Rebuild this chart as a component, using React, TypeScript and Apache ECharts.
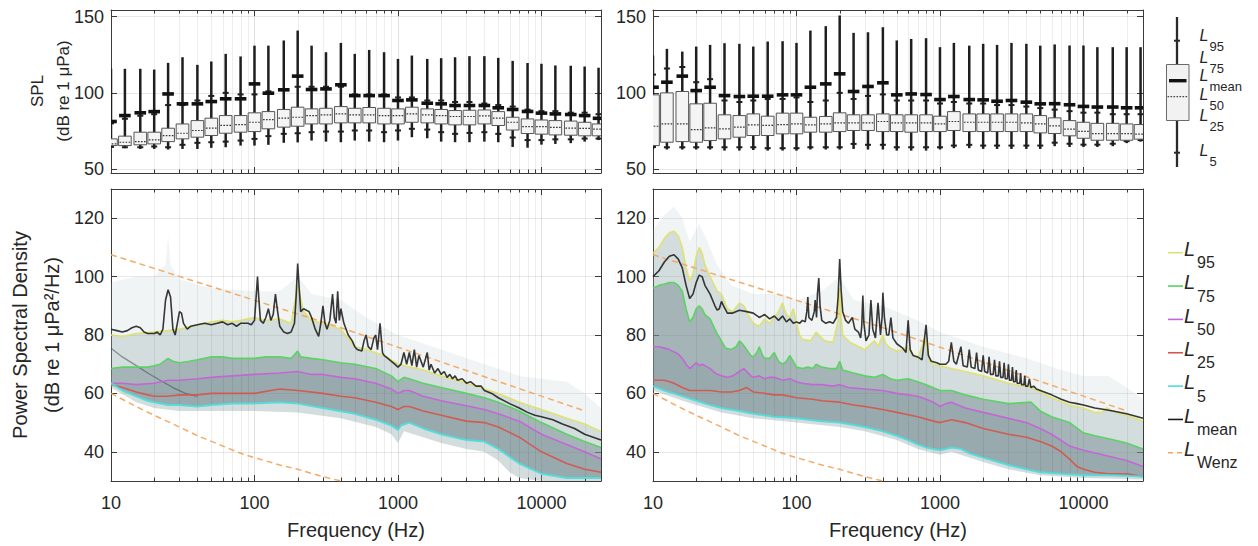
import { useEffect, useRef } from 'react';
import * as echarts from 'echarts';

const FONT = '"Liberation Sans", Arial, Helvetica, sans-serif';

// ---------- axes ----------
const X_MIN = 10;
const X_MAX = 26000;
const SPL_RANGE = [47.4, 154.4];
const PSD_RANGE = [30, 130];
const MINOR_FREQS = [20, 30, 40, 50, 60, 70, 80, 90, 200, 300, 400, 500, 600, 700, 800, 900, 2000, 3000, 4000, 5000, 6000, 7000, 8000, 9000, 20000];

// ---------- third-octave band SPL statistics ----------
const BAND_FREQS = [10, 12.5, 16, 20, 25, 31.5, 40, 50, 63, 80, 100, 125, 160, 200, 250, 315, 400, 500, 630, 800, 1000, 1250, 1600, 2000, 2500, 3150, 4000, 5000, 6300, 8000, 10000, 12500, 16000, 20000, 25000];

const TL_MAX = [115.8, 115.8, 115.8, 115.3, 119.7, 123.4, 118.4, 120.6, 125.6, 123.9, 131, 131, 134.4, 140.9, 131, 126.7, 132.8, 125.6, 128.2, 126.7, 122.3, 124.5, 122.3, 122.8, 123.4, 124.1, 124.1, 123, 121, 119.6, 119.1, 118, 117.8, 117.3, 116.5];
const TL_P95 = [80, 83, 85, 86, 92, 92, 95, 98, 100, 99, 99, 101, 102, 104, 104, 104, 104, 99, 99, 99, 97, 97, 95, 95, 94, 94, 93, 92, 91, 89, 88, 88, 87, 87, 86];
const TL_P75 = [69.8, 71.6, 74.2, 74.2, 76.8, 79.6, 81.8, 83.4, 85.1, 85.1, 86.9, 87.7, 89.1, 90.6, 89.5, 89.9, 91, 89.9, 90.4, 89.9, 89.5, 90.6, 89.5, 89.1, 88.4, 88.6, 88.8, 87.7, 84, 82.9, 82.2, 81.8, 81.5, 80.7, 79.6];
const TL_P50 = [66.5, 67.6, 68, 69.1, 72, 73.5, 75.3, 76.8, 78.6, 79.2, 80.7, 82.5, 83.4, 84, 85.1, 85.6, 86.2, 85.6, 85.6, 85.1, 85.1, 86.2, 85.6, 85.1, 84.5, 84.5, 84.9, 83.4, 80.7, 77.8, 77.8, 77.3, 76.9, 76.7, 76.2];
const TL_P25 = [65.4, 65.4, 65.9, 66.5, 68, 69.8, 70.9, 72, 73.5, 74.2, 74.6, 76.4, 77.5, 78.1, 79.6, 79.6, 80.3, 80.3, 80.3, 79.6, 79.6, 80.7, 80.3, 79.6, 79, 79, 79.6, 78.6, 75.6, 73.3, 72.9, 72.4, 72.2, 71.8, 71.8];
const TL_P5 = [64.5, 64.3, 64.3, 64.8, 64.3, 65.9, 67.2, 67.6, 68, 68.7, 69.8, 71.6, 73.1, 73.5, 74.2, 74.6, 74.6, 75.3, 75.3, 74.2, 75.3, 76.4, 75.9, 74.2, 73.1, 73.7, 74.2, 73.1, 70.7, 69, 69, 69.5, 69.5, 70, 70];
const TL_MIN = [64, 63.7, 63.2, 63.2, 62.8, 63.2, 63.2, 63.9, 64.3, 65.4, 65.4, 65.9, 67.2, 67.5, 68.7, 68, 67.6, 68.7, 68, 67.6, 68.7, 70.9, 70.2, 68, 67.6, 67.6, 68, 67.6, 64.5, 64, 66, 66.5, 67, 68, 69];
const TL_MEAN = [81.2, 85.1, 86.9, 87.7, 99.3, 92.8, 92.8, 94.3, 96.1, 96.1, 105.9, 99.8, 102, 111, 102.2, 102.6, 105.3, 98.2, 98.2, 98.2, 95, 95.4, 93.2, 92.8, 91.7, 91.7, 91.7, 90.2, 89.1, 87.8, 86.7, 86.2, 85.8, 85.1, 83.3];

const TR_MAX = [124.5, 128.9, 127.1, 130.4, 131.5, 132.6, 132.2, 130.4, 133.7, 133.9, 132.8, 140.9, 143.8, 150.8, 139.4, 139.8, 143.1, 134.4, 135.4, 135.9, 130, 132.8, 131, 132.2, 131.5, 132.8, 132.2, 131, 131.8, 131.1, 131.1, 130, 130, 130, 130];
const TR_P95 = [112, 116, 117, 107, 109, 95, 94, 95, 96, 96, 97, 94, 95, 100, 96, 98, 99, 95, 95, 95, 93, 94, 93, 93, 92, 92, 91, 90, 89, 88, 87, 87, 86, 86, 86];
const TR_P75 = [98.7, 100, 100.9, 92.8, 93.2, 85.6, 85.1, 86.2, 84.7, 86.7, 86.7, 84, 84.5, 86.9, 85.6, 85.6, 86.2, 85.6, 85.6, 85.6, 84.7, 87.7, 86.2, 86.2, 86.2, 86.2, 86.2, 85.1, 83.6, 81.8, 80.7, 80, 80, 79.6, 79.2];
const TR_P50 = [78.1, 79.6, 79.6, 75.9, 77, 76.4, 77.5, 79, 78.6, 79.2, 79.6, 79, 79.6, 80.3, 80.3, 80.3, 81.2, 80.3, 80.3, 80.3, 79.6, 81.2, 80.7, 80.7, 80.7, 80.7, 80.3, 79.6, 78.4, 76.2, 74.7, 73.3, 73.3, 73.3, 72.9];
const TR_P25 = [65.4, 67.6, 68, 67.6, 68.7, 69.8, 70.9, 72, 72, 73.1, 73.1, 74.2, 74.2, 74.6, 75.3, 75.3, 74.6, 74.6, 74.2, 74.6, 74.6, 75.3, 74.6, 74.6, 74.6, 74.6, 74.6, 73.7, 73.3, 71.8, 70.2, 68.9, 68.9, 68.9, 69.6];
const TR_P5 = [64.5, 64.3, 64.3, 64.3, 64.3, 64.3, 64.3, 64.3, 63.7, 63.7, 63.7, 64.3, 64.3, 64.3, 66.5, 65.9, 65.9, 64.3, 64.3, 64.3, 64.3, 65.4, 65.9, 65.4, 65.4, 65.4, 65.4, 65.4, 67.3, 66.6, 66, 66, 66.6, 68.3, 69];
const TR_MIN = [63, 62.8, 62.8, 62.8, 62.8, 62.1, 62.1, 62.5, 62.1, 62.1, 62.1, 62.8, 62.8, 62.8, 63.2, 62.8, 62.8, 62.1, 62.1, 62.1, 62.8, 63.7, 63.7, 63.2, 63.2, 63.2, 63.2, 63.2, 65, 64.5, 64.5, 64.5, 65, 67, 68];
const TR_MEAN = [103.7, 107, 111, 101.5, 103.7, 98.2, 97.6, 97.8, 97.8, 98.7, 98.7, 103.7, 105.9, 112.5, 100.9, 104.2, 106.6, 98.7, 99.3, 98.9, 95.6, 97.6, 95.6, 95.4, 94.5, 95, 93.9, 92.8, 92.9, 92.2, 91.1, 90.7, 90.7, 90.2, 90.2];

// ---------- PSD percentiles, left site [Hz, dB] ----------
const BL_MEAN = [[10, 82], [11, 81.5], [12, 81], [13, 81.5], [14, 82.5], [15, 83], [16, 82.5], [17, 81], [18, 80.5], [20, 80.5], [21, 81], [22, 80], [23, 82], [24, 92], [25, 95.5], [26, 93], [27, 82], [28, 80], [29, 84], [30, 88], [31, 87.5], [32, 84], [34, 82], [36, 83], [40, 83.5], [45, 84], [50, 83.5], [55, 84], [60, 84.5], [65, 83.5], [70, 84], [75, 83], [80, 84], [90, 84], [95, 83.5], [100, 85], [103, 94], [105, 100], [107, 93], [110, 85], [115, 84], [120, 86], [125, 89], [130, 85], [135, 87], [140, 94], [145, 88], [150, 83], [160, 81], [170, 80.5], [180, 81], [190, 84], [195, 93], [200, 104.5], [205, 96], [210, 88], [220, 89], [240, 88], [250, 86], [265, 82], [280, 79.5], [290, 84], [300, 90], [310, 84], [320, 82], [335, 85], [350, 94], [360, 86], [370, 84], [380, 95], [390, 85], [400, 89], [420, 84], [450, 80], [480, 78], [500, 76], [520, 75], [560, 74.5], [580, 78], [600, 80], [620, 76], [650, 75], [680, 79], [700, 80], [720, 75], [750, 84], [780, 74], [800, 73], [850, 72], [900, 71], [950, 70], [1000, 69], [1050, 70], [1100, 74], [1150, 70], [1200, 74], [1250, 69.5], [1300, 75], [1350, 69], [1400, 73], [1500, 69], [1600, 74], [1650, 68], [1700, 70], [1800, 67], [1900, 68.5], [2000, 66.5], [2100, 67.5], [2200, 65.5], [2300, 66.5], [2400, 65], [2500, 66], [2600, 64.5], [2800, 65], [3000, 63.5], [3200, 64], [3500, 62.5], [3800, 62.5], [4000, 61], [4500, 60], [5000, 58.5], [6000, 56.5], [7000, 55], [8000, 53.5], [9000, 52.5], [10000, 52], [12000, 51], [14000, 49.5], [17000, 48], [20000, 46], [26000, 44]];
const BL_P95 = [[10, 80], [12, 79.5], [15, 80.5], [20, 81], [25, 81.5], [30, 82], [40, 83.5], [50, 84.5], [60, 85], [70, 84.5], [80, 85], [100, 86], [120, 85], [150, 85.5], [180, 84], [200, 97], [220, 88], [250, 85], [300, 84], [400, 82], [500, 76], [600, 75], [800, 73], [1000, 70], [1500, 68], [2000, 66], [3000, 63.5], [4000, 61.5], [5000, 60], [7000, 57], [10000, 54.5], [15000, 51.5], [20000, 49.5], [26000, 47]];
const BL_P75 = [[10, 68.5], [12, 69], [15, 69], [18, 69], [20, 69.5], [22, 70], [25, 72], [27, 71], [30, 70.5], [35, 71], [40, 71.5], [50, 72.5], [60, 72.5], [70, 72], [80, 72], [100, 72], [120, 72.5], [150, 72.5], [180, 72], [200, 74.5], [210, 72.5], [250, 72], [300, 71.5], [400, 70.5], [500, 70], [700, 68.5], [900, 66], [1000, 64], [1100, 65.5], [1200, 65], [1500, 63.5], [2000, 62], [3000, 60], [4000, 58.5], [5000, 57], [7000, 54], [10000, 50], [15000, 46], [20000, 43.5], [26000, 41.5]];
const BL_P50 = [[10, 63.5], [12, 63.5], [15, 63], [20, 63.5], [25, 64.5], [30, 64.5], [40, 65], [50, 65.5], [70, 66], [100, 66.5], [150, 67], [200, 67.5], [250, 66.5], [300, 66.5], [400, 65.5], [500, 65], [700, 63.5], [900, 61.5], [1000, 60], [1100, 61], [1200, 61], [1500, 59], [2000, 57.5], [3000, 55.8], [4000, 54.5], [5000, 53], [7000, 50.5], [10000, 46], [15000, 42.5], [20000, 40], [26000, 37.5]];
const BL_P25 = [[10, 63], [12, 62], [15, 60.5], [18, 59.5], [20, 59], [25, 59], [30, 59.5], [40, 59.5], [50, 60], [70, 60], [100, 60], [130, 61], [150, 61.5], [200, 61], [300, 60], [400, 59], [500, 58.5], [700, 57], [900, 55.5], [1000, 54.5], [1100, 55.5], [1200, 55.5], [1500, 54], [2000, 52.5], [3000, 50.5], [4000, 50], [5000, 48.5], [7000, 45], [10000, 40], [15000, 36], [20000, 34], [26000, 33]];
const BL_P5 = [[10, 63.5], [12, 61], [15, 59], [18, 57.5], [20, 57], [25, 56], [30, 56], [40, 55.5], [50, 56], [70, 56.5], [100, 56.5], [150, 57], [200, 56.5], [300, 55], [500, 53], [700, 51], [900, 49], [1000, 47.5], [1050, 49], [1200, 50], [1500, 48], [2000, 46], [3000, 44], [4000, 43.5], [5000, 41], [7000, 36], [10000, 32.5], [15000, 31], [20000, 31], [26000, 31]];
const BL_GRAY = [[10, 75.5], [12, 72.5], [15, 69.5], [18, 67], [22, 64.5], [27, 62], [33, 60], [40, 59]];
const BL_HAZE_UP = [[10, 98], [15, 100], [20, 100], [24, 104], [25, 114], [26, 104], [30, 99], [50, 96], [100, 95], [150, 95], [200, 100], [250, 94], [400, 92], [600, 86], [1000, 80], [2000, 75], [4000, 70], [7000, 66], [10000, 65], [15000, 64], [20000, 60], [26000, 55]];
const BL_HAZE_LO = [[10, 62], [15, 57], [20, 55], [30, 54], [60, 54], [100, 54], [200, 53.5], [400, 51.5], [700, 48.5], [900, 46], [1000, 43], [1100, 47], [1500, 45], [2000, 43], [3000, 41], [4000, 40], [5000, 37], [6000, 33], [7000, 31], [10000, 30], [26000, 30]];

// ---------- PSD percentiles, right site [Hz, dB] ----------
const BR_MEAN = [[10, 100], [11, 102], [12, 105], [13, 107], [14, 107.5], [15, 106], [16, 103], [17, 97], [18, 92.5], [19, 94], [20, 98], [21, 100.5], [22, 100], [23, 97], [25, 94], [27, 90], [28, 88.5], [29, 89], [30, 91.5], [31, 90], [33, 87.5], [36, 87.5], [40, 88.5], [45, 88], [50, 87.5], [55, 86], [60, 87], [65, 85.5], [70, 86.5], [75, 85], [80, 86.5], [85, 84.5], [90, 85.5], [95, 84], [100, 84.5], [105, 84], [110, 85], [115, 84.5], [118, 88], [120, 93], [122, 86], [128, 85], [133, 88], [135, 92], [138, 86], [140, 94], [143, 99.5], [146, 90], [150, 85], [160, 84], [170, 84.5], [180, 84], [190, 86], [195, 93], [200, 106], [205, 95], [210, 88], [220, 85], [230, 84], [245, 86], [255, 82], [270, 81], [280, 79], [285, 83], [290, 93.5], [295, 84], [305, 78], [320, 80], [330, 92], [340, 82], [355, 79], [370, 91], [385, 80], [395, 86], [400, 94.5], [410, 86], [425, 80], [440, 80], [455, 86], [470, 79], [500, 77], [550, 75.5], [580, 74], [600, 85], [620, 75], [650, 73], [700, 72.5], [750, 71.5], [800, 83.5], [830, 73], [870, 71], [950, 70.5], [1000, 70], [1100, 70], [1150, 71], [1200, 77.5], [1250, 71], [1300, 70], [1400, 76], [1450, 69.5], [1550, 69], [1600, 75], [1650, 69], [1750, 68.5], [1800, 74], [1850, 68], [1950, 67.5], [2000, 73], [2050, 67.5], [2150, 67], [2200, 72.5], [2250, 66.5], [2350, 66.5], [2400, 71.5], [2450, 66], [2550, 66], [2600, 71], [2650, 65.5], [2750, 65.5], [2800, 70.5], [2850, 65], [2950, 65], [3000, 70], [3050, 64.5], [3150, 64.5], [3200, 69], [3250, 64], [3350, 64], [3400, 68], [3450, 63.5], [3600, 63.5], [3650, 67], [3700, 63], [3850, 63], [3900, 66], [3950, 62.5], [4100, 62.5], [4200, 65], [4300, 62], [4500, 62.5], [4700, 61.5], [5000, 61], [6000, 59.5], [7000, 58], [8000, 57], [9000, 56.5], [10000, 56], [12000, 55], [14000, 54.5], [16000, 54], [20000, 53], [26000, 51.5]];
const BR_P95 = [[10, 108], [11, 110], [12, 113], [13, 115], [14, 115.5], [15, 114], [16, 110], [17, 103], [18, 98.5], [19, 101], [20, 107], [21, 110], [22, 108], [23, 104], [25, 100], [28, 95], [30, 94], [33, 89], [36, 88], [40, 91], [43, 90], [46, 87], [50, 84], [55, 83], [60, 85.5], [65, 84], [70, 86], [75, 88], [80, 91], [85, 87], [90, 86], [95, 89], [100, 84], [105, 80], [110, 78.5], [125, 78], [137, 81], [157, 78], [180, 77.5], [195, 85], [200, 96], [205, 86], [210, 80], [235, 77.5], [260, 76.5], [300, 75], [330, 77], [350, 78], [370, 76], [400, 80], [420, 77], [450, 75.5], [500, 74.5], [550, 75], [590, 76], [650, 73], [700, 72], [785, 79], [850, 71], [900, 70], [1000, 69.5], [1200, 68.5], [1500, 67.5], [2000, 66], [3000, 63.5], [4300, 62], [5000, 60.5], [6000, 58.5], [8000, 56], [10000, 55], [12000, 53.5], [13500, 53.5], [14500, 55], [16000, 54], [20000, 52.5], [26000, 50.5]];
const BR_P75 = [[10, 96], [11, 97], [12, 97.5], [13, 98], [14, 98], [15, 97], [16, 95], [17, 89], [18, 84.5], [19, 86], [20, 89], [21, 90], [22, 89], [23, 87], [25, 85.5], [27, 82], [28, 80.5], [30, 78], [32, 75.5], [35, 75], [38, 76], [40, 78], [42, 77], [45, 75], [48, 73], [50, 72.5], [53, 74], [55, 76], [58, 73], [60, 72], [65, 72], [70, 74], [75, 71], [80, 70], [85, 71], [90, 73], [95, 71], [100, 69], [110, 68.5], [120, 69], [130, 68.5], [137, 70], [150, 69], [170, 68.5], [190, 68.5], [200, 71], [210, 68], [250, 67], [300, 66], [350, 65.5], [400, 66.5], [450, 65], [500, 64.5], [600, 65], [700, 64], [800, 63], [1000, 61], [1200, 61], [1500, 59.5], [2000, 58], [3000, 56.5], [4300, 57], [5000, 54], [6000, 52], [8000, 50], [10000, 46.5], [12000, 45.5], [15000, 44.5], [20000, 43], [26000, 41]];
const BR_P50 = [[10, 76], [11, 76], [12, 75.5], [13, 75], [15, 73.5], [16, 72], [17, 70], [18, 68.5], [19, 69.5], [20, 70.5], [21, 69.5], [22, 70], [23, 69.5], [25, 68.5], [27, 67], [30, 66], [33, 65.5], [36, 66], [40, 67.5], [43, 68.5], [45, 67.5], [48, 66], [50, 65.5], [55, 66], [60, 65], [65, 65.5], [70, 65.5], [80, 64.5], [90, 65], [100, 64], [110, 63.5], [130, 63], [150, 63], [180, 62.5], [200, 63], [230, 62], [300, 61.5], [400, 61], [500, 60], [700, 59], [800, 58], [900, 57], [1000, 55.5], [1100, 56.5], [1200, 57], [1500, 55], [2000, 53.5], [3000, 51.5], [4000, 50], [5000, 48], [6000, 46], [8000, 42], [10000, 40.5], [15000, 38.5], [20000, 37], [26000, 35]];
const BR_P25 = [[10, 64.5], [12, 64.5], [14, 63.5], [16, 62], [18, 61], [20, 61], [25, 61], [30, 60.5], [35, 60.5], [40, 61], [45, 62], [50, 60.5], [60, 60], [70, 59.5], [80, 59.5], [100, 58.5], [130, 58], [150, 57.5], [200, 57], [250, 56], [300, 55.5], [400, 54.5], [500, 53.5], [700, 52], [900, 50.5], [1000, 50], [1200, 51], [1500, 50], [2000, 48], [3000, 46], [4000, 45], [5000, 43.5], [6000, 42], [7000, 40], [8000, 37.5], [9000, 35], [10000, 34], [12000, 33], [15000, 32.5], [20000, 32.5], [26000, 31.5]];
const BR_P5 = [[10, 62.5], [12, 61], [15, 59.5], [20, 57.5], [25, 56], [30, 55], [40, 54], [50, 53], [70, 52], [100, 51.5], [150, 50.5], [200, 50], [300, 48.5], [400, 47], [500, 45.5], [600, 44], [700, 42.5], [800, 41.5], [1000, 40.5], [1200, 41.5], [1400, 41], [1600, 39.5], [2000, 38], [3000, 35.5], [4000, 34], [5000, 33], [7000, 32.5], [10000, 32], [15000, 32], [26000, 31.5]];
const BR_HAZE_UP = [[10, 116], [12, 121], [14, 124], [16, 120], [18, 112], [21, 118], [24, 112], [28, 104], [35, 97], [50, 94], [80, 94], [100, 92], [150, 95], [200, 100], [250, 92], [400, 90], [700, 85], [1000, 81], [2000, 76], [4000, 72], [7000, 68], [10000, 66], [15000, 66], [20000, 62], [26000, 58]];
const BR_HAZE_LO = [[10, 61], [15, 58], [20, 56], [30, 53.5], [50, 51.5], [100, 50], [200, 48.5], [300, 47], [500, 44], [700, 41], [1000, 39], [1200, 40], [2000, 36.5], [3000, 34], [5000, 32], [10000, 31], [26000, 30.5]];

// Wenz limits
const WENZ_HIGH = [[10, 107.5], [400, 82.5], [20000, 54]];
const WENZ_LOW = [[10, 60], [15, 55.5], [20, 52.5], [30, 48.5], [40, 45.5], [60, 42], [80, 39.5], [100, 38], [150, 35.5], [200, 34], [300, 31.5], [400, 30]];

// ---------- styles ----------
const AXIS_COLOR = '#3a3a3a';
const C95 = '#dfe16c';
const C75 = '#55d45e';
const C50 = '#c563d8';
const C25 = '#d4574f';
const C5 = '#52dbdb';
const CMEAN = '#1c1c1c';
const CWENZ = '#f1a660';
const BOX_SPAN = Math.pow(10, 0.044);

const isDecade = (v: number) => {
  const l = Math.log10(v);
  return Math.abs(l - Math.round(l)) < 1e-6;
};

function buildOption() {
  const grids = [
    { left: 111, top: 10, width: 490, height: 163 },
    { left: 653, top: 10, width: 490, height: 163 },
    { left: 111, top: 189, width: 490, height: 292 },
    { left: 653, top: 189, width: 490, height: 292 },
  ];
  const xAxes: any[] = [];
  const yAxes: any[] = [];
  grids.forEach((_, i) => {
    const bottom = i >= 2;
    const common = {
      type: 'log', logBase: 10, min: X_MIN, max: X_MAX, gridIndex: i,
      axisLine: { show: true, onZero: false, lineStyle: { color: AXIS_COLOR, width: 1 } },
      axisTick: { show: true, inside: true, length: 6, lineStyle: { color: AXIS_COLOR } },
    };
    xAxes.push({
      ...common, position: 'bottom',
      axisLabel: {
        show: bottom, fontSize: 18, color: '#262626', margin: 13, fontFamily: FONT,
        formatter: (v: number) => (isDecade(v) ? String(Math.round(v)) : ''),
      },
      splitLine: { show: true, lineStyle: { color: 'rgba(0,0,0,0.12)', width: 1 } },
    });
    xAxes.push({ ...common, position: 'top', axisLabel: { show: false }, splitLine: { show: false } });
    const r = bottom ? PSD_RANGE : SPL_RANGE;
    const step = bottom ? 20 : 50;
    const ycommon = {
      type: 'value', min: r[0], max: r[1], splitNumber: bottom ? 5 : 2, gridIndex: i,
      axisLine: { show: true, onZero: false, lineStyle: { color: AXIS_COLOR, width: 1 } },
      axisTick: { show: true, inside: true, length: 6, lineStyle: { color: AXIS_COLOR } },
    };
    yAxes.push({
      ...ycommon, position: 'left',
      axisLabel: {
        show: true, fontSize: 18, color: '#262626', margin: 7, fontFamily: FONT,
        formatter: (v: number) => (Math.abs(v % step) < 1e-6 ? String(v) : ''),
      },
      splitLine: { show: true, lineStyle: { color: 'rgba(0,0,0,0.09)', width: 1 } },
    });
    yAxes.push({ ...ycommon, position: 'right', axisLabel: { show: false }, splitLine: { show: false } });
  });

  const series: any[] = [];

  const minorGrid = (i: number) => ({
    type: 'custom', xAxisIndex: 2 * i, yAxisIndex: 2 * i, silent: true, clip: false,
    data: MINOR_FREQS.map((f) => [f, 100]),
    encode: { x: 0, y: 1 },
    renderItem: (params: any, api: any) => {
      const x = Math.round(api.coord([api.value(0), 100])[0]) + 0.5;
      const cs = params.coordSys;
      return {
        type: 'group',
        children: [
          { type: 'line', shape: { x1: x, y1: cs.y, x2: x, y2: cs.y + cs.height }, style: { stroke: 'rgba(0,0,0,0.065)', lineWidth: 1 } },
          { type: 'line', shape: { x1: x, y1: cs.y + cs.height, x2: x, y2: cs.y + cs.height - 3.5 }, style: { stroke: AXIS_COLOR, lineWidth: 1 } },
          { type: 'line', shape: { x1: x, y1: cs.y, x2: x, y2: cs.y + 3.5 }, style: { stroke: AXIS_COLOR, lineWidth: 1 } },
        ],
      };
    },
  });

  const boxSeries = (i: number, mn: number[], p5: number[], p25: number[], p50: number[], p75: number[], p95: number[], mx: number[], mean: number[]) => ({
    type: 'custom', xAxisIndex: 2 * i, yAxisIndex: 2 * i, silent: true, clip: true,
    data: BAND_FREQS.map((f, k) => [f, mn[k], p5[k], p25[k], p50[k], p75[k], p95[k], mx[k], mean[k]]),
    encode: { x: 0, y: [1, 7] },
    renderItem: (params: any, api: any) => {
      const f = api.value(0);
      const x = api.coord([f, 100])[0];
      const xl = api.coord([f / BOX_SPAN, 100])[0];
      const xr = api.coord([f * BOX_SPAN, 100])[0];
      const y = (d: number) => api.coord([f, api.value(d)])[1];
      const ink = '#1e1e1e';
      return {
        type: 'group',
        children: [
          { type: 'line', shape: { x1: x, y1: y(1), x2: x, y2: y(7) }, style: { stroke: ink, lineWidth: 2.5 } },
          { type: 'line', shape: { x1: x - 3, y1: y(6), x2: x + 3, y2: y(6) }, style: { stroke: ink, lineWidth: 2 } },
          { type: 'line', shape: { x1: x - 3, y1: y(2), x2: x + 3, y2: y(2) }, style: { stroke: ink, lineWidth: 2 } },
          { type: 'rect', shape: { x: xl, y: y(5), width: xr - xl, height: y(3) - y(5) }, style: { fill: '#f4f4f4', stroke: '#555', lineWidth: 1 } },
          { type: 'line', shape: { x1: xl + 1, y1: y(4), x2: xr - 1, y2: y(4) }, style: { stroke: '#333', lineWidth: 1.2, lineDash: [1.6, 1.4] } },
          { type: 'line', shape: { x1: xl + 0.5, y1: y(8), x2: xr - 0.5, y2: y(8) }, style: { stroke: '#111', lineWidth: 3.6 } },
        ],
      };
    },
  });

  const band = (i: number, upper: number[][], lower: number[][], fill: string) => ({
    type: 'custom', xAxisIndex: 2 * i, yAxisIndex: 2 * i, silent: true, clip: true,
    data: [[upper[0][0], upper[0][1]]],
    encode: { x: 0, y: 1 },
    renderItem: (_params: any, api: any) => {
      const pts = upper.map((p) => api.coord(p)).concat(lower.slice().reverse().map((p) => api.coord(p)));
      return { type: 'polygon', shape: { points: pts }, style: { fill } };
    },
  });

  const line = (i: number, data: number[][], color: string, width = 1.6, dash: any = 'solid', opacity = 0.95) => ({
    type: 'line', xAxisIndex: 2 * i, yAxisIndex: 2 * i, data, showSymbol: false, symbol: 'none',
    silent: true, clip: true, lineStyle: { color, width, type: dash, opacity },
  });

  // top boxplots
  series.push(minorGrid(0), boxSeries(0, TL_MIN, TL_P5, TL_P25, TL_P50, TL_P75, TL_P95, TL_MAX, TL_MEAN));
  series.push(minorGrid(1), boxSeries(1, TR_MIN, TR_P5, TR_P25, TR_P50, TR_P75, TR_P95, TR_MAX, TR_MEAN));

  // bottom PSD panels
  const sites = [
    { i: 2, haze: [BL_HAZE_UP, BL_HAZE_LO], p95: BL_P95, p75: BL_P75, p50: BL_P50, p25: BL_P25, p5: BL_P5, mean: BL_MEAN },
    { i: 3, haze: [BR_HAZE_UP, BR_HAZE_LO], p95: BR_P95, p75: BR_P75, p50: BR_P50, p25: BR_P25, p5: BR_P5, mean: BR_MEAN },
  ];
  sites.forEach((s) => {
    series.push(band(s.i, s.haze[0], s.haze[1], 'rgba(160,180,184,0.15)'));
    series.push(band(s.i, s.p95, s.haze[1], 'rgba(130,155,160,0.26)'));
    series.push(band(s.i, s.p75, s.p5, 'rgba(105,130,135,0.44)'));
    series.push(band(s.i, s.p50, s.p5, 'rgba(95,120,125,0.18)'));
    series.push(minorGrid(s.i));
    if (s.i === 2) series.push(line(2, BL_GRAY, 'rgba(60,70,75,0.55)', 1.3));
    series.push(line(s.i, s.p95, C95));
    series.push(line(s.i, s.p75, C75));
    series.push(line(s.i, s.p50, C50));
    series.push(line(s.i, s.p25, C25));
    series.push(line(s.i, s.p5, C5, 2));
    series.push(line(s.i, WENZ_HIGH, CWENZ, 1.5, [6, 4]));
    series.push(line(s.i, WENZ_LOW, CWENZ, 1.5, [6, 4]));
    series.push(line(s.i, s.mean, CMEAN, 1.6, 'solid', 0.88));
  });

  // ---------- graphic: titles and legends ----------
  const txt = (x: number, y: number, text: string, size: number, opts: any = {}) => ({
    type: 'text', x, y, rotation: opts.rotation || 0, silent: true,
    style: {
      text, fontSize: size, fontFamily: FONT, fontStyle: opts.italic ? 'italic' : 'normal',
      fill: opts.fill || '#262626', align: opts.align || 'center', verticalAlign: opts.valign || 'middle',
    },
  });
  const graphic: any[] = [
    txt(37, 91, 'SPL', 17, { rotation: Math.PI / 2 }),
    txt(63, 91, '(dB re 1 μPa)', 17, { rotation: Math.PI / 2 }),
    txt(20, 335, 'Power Spectral Density', 20, { rotation: Math.PI / 2 }),
    txt(52, 335, '(dB re 1 μPa²/Hz)', 20, { rotation: Math.PI / 2 }),
    txt(356, 530, 'Frequency (Hz)', 20),
    txt(898, 530, 'Frequency (Hz)', 20),
  ];

  // boxplot legend glyph
  const gx = 1177;
  graphic.push(
    { type: 'line', silent: true, shape: { x1: gx, y1: 17, x2: gx, y2: 167 }, style: { stroke: '#2a2a2a', lineWidth: 2.3 } },
    { type: 'line', silent: true, shape: { x1: gx - 3, y1: 40.7, x2: gx + 3, y2: 40.7 }, style: { stroke: '#2a2a2a', lineWidth: 2 } },
    { type: 'line', silent: true, shape: { x1: gx - 3, y1: 152.7, x2: gx + 3, y2: 152.7 }, style: { stroke: '#2a2a2a', lineWidth: 2 } },
    { type: 'rect', silent: true, shape: { x: 1166.5, y: 64.5, width: 22.5, height: 56 }, style: { fill: '#f2f2f2', stroke: '#6a6a6a', lineWidth: 1 } },
    { type: 'line', silent: true, shape: { x1: 1169, y1: 80.7, x2: 1186.5, y2: 80.7 }, style: { stroke: '#111', lineWidth: 3.4 } },
    { type: 'line', silent: true, shape: { x1: 1167.5, y1: 96.7, x2: 1188.5, y2: 96.7 }, style: { stroke: '#444', lineWidth: 1.2, lineDash: [1.6, 1.4] } },
  );
  const boxLegend = [
    { sub: '95', top: 30 },
    { sub: '75', top: 52 },
    { sub: 'mean', top: 70.5 },
    { sub: '50', top: 89 },
    { sub: '25', top: 110 },
    { sub: '5', top: 145 },
  ];
  boxLegend.forEach((e) => {
    graphic.push(txt(1199.5, e.top - 3, 'L', 16, { italic: true, align: 'left', valign: 'top' }));
    graphic.push(txt(1209.5, e.top + 12 - 2.5, e.sub, 13, { align: 'left', valign: 'top' }));
  });

  // line legend
  const lineLegend = [
    { sub: '95', color: C95, dash: null },
    { sub: '75', color: C75, dash: null },
    { sub: '50', color: C50, dash: null },
    { sub: '25', color: C25, dash: null },
    { sub: '5', color: C5, dash: null },
    { sub: 'mean', color: CMEAN, dash: null },
    { sub: 'Wenz', color: CWENZ, dash: [5, 4] },
  ];
  lineLegend.forEach((e, k) => {
    const ly = 252.7 + k * 33.35;
    graphic.push({
      type: 'line', silent: true, shape: { x1: 1168, y1: ly, x2: 1183, y2: ly },
      style: { stroke: e.color, lineWidth: 1.6, lineDash: e.dash || undefined },
    });
    graphic.push(txt(1184, ly - 9.7 - 4, 'L', 20, { italic: true, align: 'left', valign: 'top' }));
    graphic.push(txt(1197, ly + 5.3 - 3.2, e.sub, 16, { align: 'left', valign: 'top' }));
  });

  return {
    animation: false,
    backgroundColor: '#ffffff',
    textStyle: { fontFamily: FONT },
    grid: grids,
    xAxis: xAxes,
    yAxis: yAxes,
    series,
    graphic,
  };
}

export default function App() {
  const ref = useRef<HTMLDivElement>(null);
  useEffect(() => {
    document.body.style.margin = '0';
    const chart = echarts.init(ref.current as HTMLDivElement, null, { renderer: 'svg' });
    chart.setOption(buildOption() as any);
    return () => chart.dispose();
  }, []);
  return <div ref={ref} style={{ width: 1258, height: 546 }} />;
}
